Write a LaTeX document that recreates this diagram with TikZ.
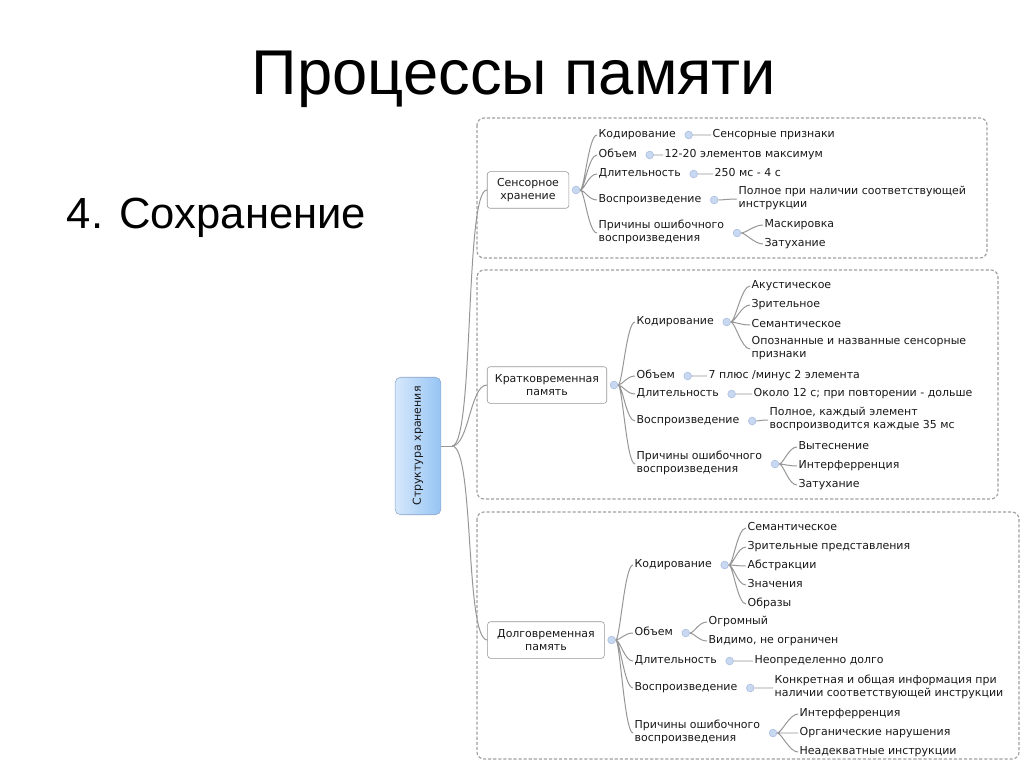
\documentclass[tikz,border=0pt]{standalone}
\usepackage{fontspec}
\setmainfont{DejaVu Sans}
\newfontfamily\slidefont{Liberation Sans}
\usetikzlibrary{positioning}
\definecolor{mapline}{RGB}{150,150,150}
\definecolor{groupedge}{RGB}{160,160,160}
\definecolor{dotfill}{RGB}{200,216,240}
\definecolor{dotline}{RGB}{170,190,225}
\definecolor{maptext}{RGB}{25,25,25}
\definecolor{rootleft}{RGB}{214,232,252}
\definecolor{rootright}{RGB}{150,196,244}
\definecolor{rootedge}{RGB}{140,165,200}
\newcommand{\mapfont}{\fontsize{7.8}{9.2}\selectfont}

\begin{document}
\begin{tikzpicture}[
  x=0.025cm, y=-0.025cm,
  item/.style={anchor=west,inner sep=1pt,font=\mapfont,text=maptext,align=left,execute at begin node=\strut},
  topic/.style={draw=mapline,rounded corners=2pt,fill=white,font=\mapfont,text=maptext,align=center,inner sep=2pt,minimum height=26pt},
  dot/.style={circle,inner sep=0pt,minimum size=5.5pt,fill=dotfill,draw=dotline,line width=0.4pt},
  link/.style={draw=mapline,line width=0.7pt},
  branch/.style={to path={.. controls ([xshift=#1]\tikztostart) and ([xshift=-#1]\tikztotarget) .. (\tikztotarget)}},
  branch/.default=6pt,
  group/.style={draw=groupedge,dash pattern=on 2.2pt off 1.4pt,line width=0.8pt,rounded corners=5pt}
]
  \fill[white] (0,0) rectangle (1024,767);

  \node[anchor=base,font=\slidefont\fontsize{45}{50}\selectfont] (title) at (514,95) {Процессы памяти};
  \node[anchor=base west,font=\slidefont\fontsize{31}{36}\selectfont] (stage) at (62,229) {4. Сохранение};

  % dashed frames round the three stores
  \draw[group] (477,118) rectangle (987,258);
  \draw[group] (477,270) rectangle (998,499);
  \draw[group] (477,512) rectangle (1019,759);

  % root
  \node[draw=rootedge,rounded corners=4pt,left color=rootleft,right color=rootright,
    minimum width=32.6pt,minimum height=97.8pt,inner sep=0pt,font=\mapfont,text=maptext]
    (root) at (418,446) {\rotatebox{90}{Структура хранения}};
  \coordinate (j0) at (452,446);

  \node[topic,minimum width=58pt] (sens) at (528,190) {Сенсорное\\хранение};
  \node[topic,minimum width=85pt] (kratk) at (547,385) {Кратковременная\\память};
  \node[topic,minimum width=83pt] (dolg) at (546,640) {Долговременная\\память};

  \draw[link] (root.east) -- (j0);
  \draw[link] (j0) to[branch=16pt] (sens.west);
  \draw[link] (j0) to[branch=12pt] (kratk.west);
  \draw[link] (j0) to[branch=16pt] (dolg.west);

  % sensory store
  \node[dot,right=2pt of sens] (s0) {};
  \node[item] (s1) at (597,135) {Кодирование};
  \node[item] (s2) at (597,155) {Объем};
  \node[item] (s3) at (597,174) {Длительность};
  \node[item] (s4) at (597,200) {Воспроизведение};
  \node[item] (s5) at (597,233) {Причины ошибочного\\воспроизведения};
  \node[dot,right=5pt of s1] (s1p) {};
  \node[dot,right=5pt of s2] (s2p) {};
  \node[dot,right=5pt of s3] (s3p) {};
  \node[dot,right=5pt of s4] (s4p) {};
  \node[dot,right=5pt of s5] (s5p) {};
  \node[item] (s1a) at (711,135) {Сенсорные признаки};
  \node[item] (s2a) at (663,155) {12-20 элементов максимум};
  \node[item] (s3a) at (713,174) {250 мс - 4 с};
  \node[item] (s4a) at (737,199) {Полное при наличии соответствующей\\инструкции};
  \node[item] (s5a) at (763,225) {Маскировка};
  \node[item] (s5b) at (763,244) {Затухание};
  \draw[link] (s0) to[branch] (s1.west) (s0) to[branch] (s2.west) (s0) to[branch] (s3.west)
    (s0) to[branch] (s4.west) (s0) to[branch] (s5.west);
  \draw[link] (s1p) to[branch] (s1a.west) (s2p) to[branch] (s2a.west) (s3p) to[branch] (s3a.west)
    (s4p) to[branch] (s4a.west) (s5p) to[branch] (s5a.west) (s5p) to[branch] (s5b.west);

  % short-term store
  \node[dot,right=2pt of kratk] (k0) {};
  \node[item] (k1) at (635,322) {Кодирование};
  \node[item] (k2) at (635,376) {Объем};
  \node[item] (k3) at (635,394) {Длительность};
  \node[item] (k4) at (635,421) {Воспроизведение};
  \node[item] (k5) at (635,464) {Причины ошибочного\\воспроизведения};
  \node[dot,right=5pt of k1] (k1p) {};
  \node[dot,right=5pt of k2] (k2p) {};
  \node[dot,right=5pt of k3] (k3p) {};
  \node[dot,right=5pt of k4] (k4p) {};
  \node[dot,right=5pt of k5] (k5p) {};
  \node[item] (k1a) at (750,286) {Акустическое};
  \node[item] (k1b) at (750,305) {Зрительное};
  \node[item] (k1c) at (750,325) {Семантическое};
  \node[item] (k1d) at (750,349) {Опознанные и названные сенсорные\\признаки};
  \node[item] (k2a) at (707,376) {7 плюс /минус 2 элемента};
  \node[item] (k3a) at (752,394) {Около 12 с; при повторении - дольше};
  \node[item] (k4a) at (768,420) {Полное, каждый элемент\\воспроизводится каждые 35 мс};
  \node[item] (k5a) at (797,447) {Вытеснение};
  \node[item] (k5b) at (797,466) {Интерферренция};
  \node[item] (k5c) at (797,485) {Затухание};
  \draw[link] (k0) to[branch] (k1.west) (k0) to[branch] (k2.west) (k0) to[branch] (k3.west)
    (k0) to[branch] (k4.west) (k0) to[branch] (k5.west);
  \draw[link] (k1p) to[branch] (k1a.west) (k1p) to[branch] (k1b.west) (k1p) to[branch] (k1c.west)
    (k1p) to[branch] (k1d.west) (k2p) to[branch] (k2a.west) (k3p) to[branch] (k3a.west)
    (k4p) to[branch] (k4a.west) (k5p) to[branch] (k5a.west) (k5p) to[branch] (k5b.west)
    (k5p) to[branch] (k5c.west);

  % long-term store
  \node[dot,right=2pt of dolg] (d0) {};
  \node[item] (d1) at (633,565) {Кодирование};
  \node[item] (d2) at (633,633) {Объем};
  \node[item] (d3) at (633,661) {Длительность};
  \node[item] (d4) at (633,688) {Воспроизведение};
  \node[item] (d5) at (633,733) {Причины ошибочного\\воспроизведения};
  \node[dot,right=5pt of d1] (d1p) {};
  \node[dot,right=5pt of d2] (d2p) {};
  \node[dot,right=5pt of d3] (d3p) {};
  \node[dot,right=5pt of d4] (d4p) {};
  \node[dot,right=5pt of d5] (d5p) {};
  \node[item] (d1a) at (746,528) {Семантическое};
  \node[item] (d1b) at (746,547) {Зрительные представления};
  \node[item] (d1c) at (746,566) {Абстракции};
  \node[item] (d1d) at (746,585) {Значения};
  \node[item] (d1e) at (746,604) {Образы};
  \node[item] (d2a) at (707,622) {Огромный};
  \node[item] (d2b) at (707,641) {Видимо, не ограничен};
  \node[item] (d3a) at (753,661) {Неопределенно долго};
  \node[item] (d4a) at (773,688) {Конкретная и общая информация при\\наличии соответствующей инструкции};
  \node[item] (d5a) at (798,714) {Интерферренция};
  \node[item] (d5b) at (798,733) {Органические нарушения};
  \node[item] (d5c) at (798,752) {Неадекватные инструкции};
  \draw[link] (d0) to[branch] (d1.west) (d0) to[branch] (d2.west) (d0) to[branch] (d3.west)
    (d0) to[branch] (d4.west) (d0) to[branch] (d5.west);
  \draw[link] (d1p) to[branch] (d1a.west) (d1p) to[branch] (d1b.west) (d1p) to[branch] (d1c.west)
    (d1p) to[branch] (d1d.west) (d1p) to[branch] (d1e.west) (d2p) to[branch] (d2a.west)
    (d2p) to[branch] (d2b.west) (d3p) to[branch] (d3a.west) (d4p) to[branch] (d4a.west)
    (d5p) to[branch] (d5a.west) (d5p) to[branch] (d5b.west) (d5p) to[branch] (d5c.west);
\end{tikzpicture}
\end{document}
